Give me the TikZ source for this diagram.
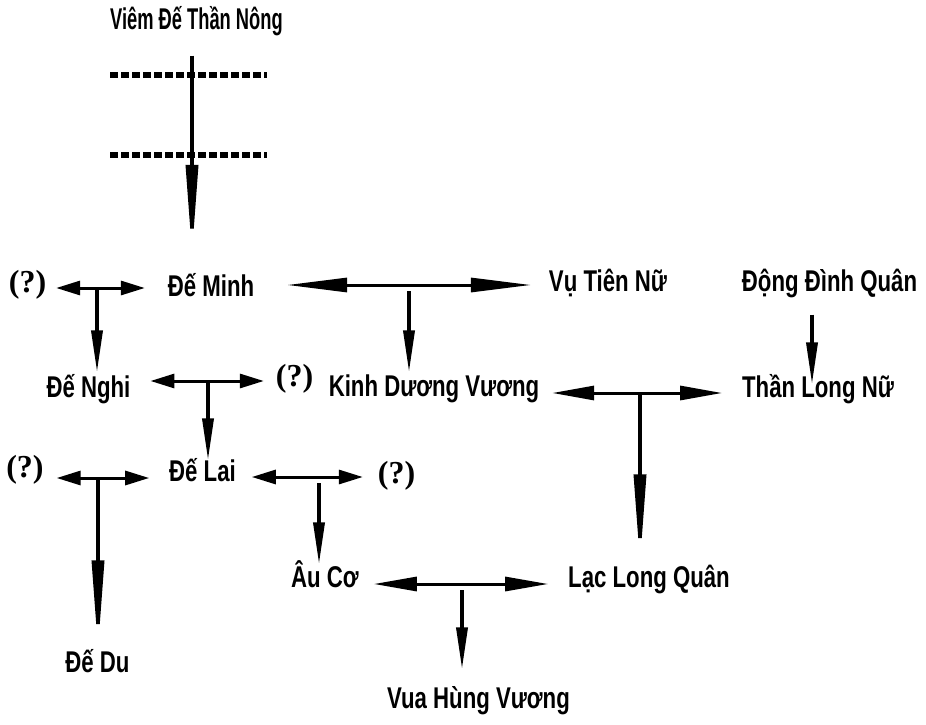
\documentclass[tikz,border=0pt]{standalone}
\usepackage{fontspec}
\setmainfont{Liberation Sans}[FakeStretch=0.74]
\newfontfamily\titlefont{Liberation Sans}[FakeStretch=0.61]
\newfontfamily\qmarkfont{Liberation Serif}
\usetikzlibrary{arrows.meta}

\tikzset{
    person/.style={inner sep=0pt, outer sep=0pt, text height=0.72em, text depth=0pt,
        font=\bfseries\fontsize{30}{32}\selectfont},
    ancestor/.style={person, font=\titlefont\bfseries\fontsize{30}{32}\selectfont},
    unknown/.style={inner sep=0pt, outer sep=0pt, text height=0.68em, text depth=0pt,
        font=\qmarkfont\bfseries\fontsize{32}{34}\selectfont},
    marriage/.style={line width=3pt,
        {Triangle[length=#1,width=14pt]}-{Triangle[length=#1,width=14pt]}},
    marriage/.default=24pt,
    child/.style={line width=3.5pt, -{Triangle[length=42pt,width=11pt]}},
    lineage/.style={line width=3.5pt, -{Triangle[length=90pt,width=12pt]}},
    gap/.style={line width=6pt, dash pattern=on 8pt off 3pt},
}

\begin{document}
\begin{tikzpicture}[x=10pt,y=-10pt]
    \useasboundingbox (0,0) rectangle (92.6,72.5);

    % people
    \node[ancestor] (viem) at (19.65,2.6) {Viêm Đế Thần Nông};
    \node[person] (minh) at (21.1,29.25) {Đế Minh};
    \node[unknown] (q1) at (2.75,28.9) {(?)};
    \node[person] (vu) at (60.8,28.8) {Vụ Tiên Nữ};
    \node[person] (dongdinh) at (82.95,28.8) {Động Đình Quân};
    \node[person] (nghi) at (8.85,39.4) {Đế Nghi};
    \node[unknown] (q2) at (29.45,38.3) {(?)};
    \node[person] (kinh) at (43.4,39.3) {Kinh Dương Vương};
    \node[person] (thanlong) at (81.8,39.4) {Thần Long Nữ};
    \node[unknown] (q3) at (2.5,47.4) {(?)};
    \node[person] (lai) at (20.25,47.8) {Đế Lai};
    \node[unknown] (q4) at (39.65,48.0) {(?)};
    \node[person] (auco) at (32.5,58.4) {Âu Cơ};
    \node[person] (lac) at (64.9,58.4) {Lạc Long Quân};
    \node[person] (du) at (9.75,66.9) {Đế Du};
    \node[person] (hung) at (47.85,70.5) {Vua Hùng Vương};

    % where the children branch off
    \coordinate (top) at (19.2,6.2);
    \coordinate (j1) at (9.7,28.8);
    \coordinate (j2) at (40.9,28.5);
    \coordinate (j3) at (20.8,38.1);
    \coordinate (j4) at (64.0,39.3);
    \coordinate (j5) at (9.8,47.8);
    \coordinate (j6) at (31.9,47.7);
    \coordinate (j7) at (46.2,58.4);
    \coordinate (dd) at (81.2,32.2);

    % generations left out
    \draw[gap] (11.0,7.5) -- (26.7,7.5);
    \draw[gap] (11.0,15.5) -- (26.7,15.5);
    \draw[lineage, shorten <=26pt, shorten >=34pt] (viem.south -| top) -- (top |- minh.north);

    \draw[marriage, shorten <=10pt, shorten >=23pt] (q1.east |- j1) -- (minh.west |- j1);
    \draw[child, shorten >=18pt] (j1) -- (j1 |- nghi.north);

    \draw[marriage=60pt, shorten <=33pt, shorten >=18pt] (minh.east |- j2) -- (vu.west |- j2);
    \draw[child, shorten <=6pt, shorten >=17pt] (j2) -- (j2 |- kinh.north);

    \draw[marriage, shorten <=20pt, shorten >=12pt] (nghi.east |- j3) -- (q2.west |- j3);
    \draw[child, shorten >=14pt] (j3) -- (j3 |- lai.north);

    \draw[child, shorten <=23pt, shorten >=6pt] (dongdinh.south -| dd) -- (dd |- thanlong.north);

    \draw[marriage=42pt, shorten <=13pt, shorten >=20pt] (kinh.east |- j4) -- (thanlong.west |- j4);
    \draw[lineage, shorten >=16pt] (j4) -- (j4 |- lac.north);

    \draw[marriage, shorten <=13pt, shorten >=20pt] (q3.east |- j5) -- (lai.west |- j5);
    \draw[lineage, shorten >=15pt] (j5) -- (j5 |- du.north);

    \draw[marriage, shorten <=16pt, shorten >=15pt] (lai.east |- j6) -- (q4.west |- j6);
    \draw[child, shorten <=6pt, shorten >=16pt] (j6) -- (j6 |- auco.north);

    \draw[marriage=43pt, shorten <=15pt, shorten >=20pt] (auco.east |- j7) -- (lac.west |- j7);
    \draw[child, shorten <=6pt, shorten >=32pt] (j7) -- (j7 |- hung.north);
\end{tikzpicture}
\end{document}
